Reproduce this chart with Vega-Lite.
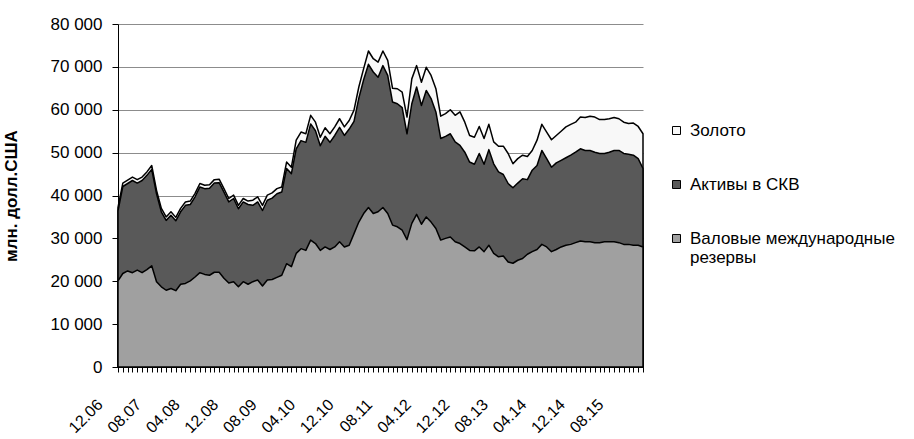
{
  "$schema": "https://vega.github.io/schema/vega-lite/v6.json",
  "width": 525,
  "height": 343,
  "autosize": {"type": "none"},
  "padding": {"left": 118, "top": 24, "right": 271, "bottom": 72},
  "background": "white",
  "config": {
    "font": "Liberation Sans",
    "view": {"stroke": null},
    "axis": {"domainColor": "black", "domainWidth": 1, "tickColor": "black", "labelColor": "black", "labelFont": "Liberation Sans", "labelFontSize": 17, "titleFont": "Liberation Sans", "titleColor": "black"},
    "axisX": {"grid": false, "tickSize": 5, "labelAngle": -45, "labelAlign": "right", "labelBaseline": "top", "labelOffset": -24, "labelPadding": 24, "labelFontSize": 16, "labelOverlap": false},
    "axisY": {"grid": true, "gridColor": "#8c8c8c", "gridWidth": 1, "tickSize": 6, "labelPadding": 10, "titleFontSize": 17, "titleFontWeight": "bold", "titlePadding": 30}
  },
  "data": {"values": [
    {"m":"12.06","gold":37200,"fx":36400,"gross":20100},
    {"m":"01.07","gold":42900,"fx":42100,"gross":21800},
    {"m":"02.07","gold":43600,"fx":42800,"gross":22400},
    {"m":"03.07","gold":44300,"fx":43500,"gross":22000},
    {"m":"04.07","gold":43700,"fx":42900,"gross":22600},
    {"m":"05.07","gold":44300,"fx":43500,"gross":22000},
    {"m":"06.07","gold":45500,"fx":44700,"gross":22700},
    {"m":"07.07","gold":47000,"fx":46100,"gross":23600},
    {"m":"08.07","gold":41200,"fx":40400,"gross":19900},
    {"m":"09.07","gold":37000,"fx":36200,"gross":18700},
    {"m":"10.07","gold":35000,"fx":34200,"gross":17900},
    {"m":"11.07","gold":36200,"fx":35400,"gross":18300},
    {"m":"12.07","gold":34900,"fx":34100,"gross":17800},
    {"m":"01.08","gold":37000,"fx":36200,"gross":19300},
    {"m":"02.08","gold":38500,"fx":37700,"gross":19500},
    {"m":"03.08","gold":38700,"fx":37900,"gross":20100},
    {"m":"04.08","gold":40500,"fx":39700,"gross":21000},
    {"m":"05.08","gold":42800,"fx":42000,"gross":22000},
    {"m":"06.08","gold":42400,"fx":41600,"gross":21600},
    {"m":"07.08","gold":42500,"fx":41700,"gross":21400},
    {"m":"08.08","gold":43700,"fx":42900,"gross":22100},
    {"m":"09.08","gold":43800,"fx":43000,"gross":22100},
    {"m":"10.08","gold":41600,"fx":40800,"gross":20700},
    {"m":"11.08","gold":39300,"fx":38500,"gross":19600},
    {"m":"12.08","gold":40100,"fx":39300,"gross":19900},
    {"m":"01.09","gold":37700,"fx":36900,"gross":18700},
    {"m":"02.09","gold":39300,"fx":38500,"gross":19900},
    {"m":"03.09","gold":38700,"fx":37900,"gross":19300},
    {"m":"04.09","gold":38900,"fx":37700,"gross":19900},
    {"m":"05.09","gold":39700,"fx":38500,"gross":20300},
    {"m":"06.09","gold":37700,"fx":36500,"gross":18900},
    {"m":"07.09","gold":40100,"fx":38900,"gross":20300},
    {"m":"08.09","gold":40600,"fx":39400,"gross":20400},
    {"m":"09.09","gold":41600,"fx":40400,"gross":20900},
    {"m":"10.09","gold":42000,"fx":40800,"gross":21400},
    {"m":"11.09","gold":47800,"fx":46300,"gross":24100},
    {"m":"12.09","gold":46600,"fx":45100,"gross":23400},
    {"m":"01.10","gold":52900,"fx":50900,"gross":26500},
    {"m":"02.10","gold":54800,"fx":52800,"gross":27600},
    {"m":"03.10","gold":54400,"fx":52400,"gross":27200},
    {"m":"04.10","gold":58700,"fx":56700,"gross":29600},
    {"m":"05.10","gold":57100,"fx":55100,"gross":28800},
    {"m":"06.10","gold":53600,"fx":51600,"gross":27200},
    {"m":"07.10","gold":55800,"fx":53800,"gross":28000},
    {"m":"08.10","gold":54400,"fx":52400,"gross":27400},
    {"m":"09.10","gold":56000,"fx":54000,"gross":28000},
    {"m":"10.10","gold":57900,"fx":55900,"gross":29200},
    {"m":"11.10","gold":56000,"fx":54000,"gross":28000},
    {"m":"12.10","gold":57500,"fx":55500,"gross":28400},
    {"m":"01.11","gold":59900,"fx":57300,"gross":31100},
    {"m":"02.11","gold":65300,"fx":62700,"gross":33800},
    {"m":"03.11","gold":69600,"fx":67000,"gross":35800},
    {"m":"04.11","gold":73700,"fx":70600,"gross":37200},
    {"m":"05.11","gold":71900,"fx":68800,"gross":35800},
    {"m":"06.11","gold":71100,"fx":67600,"gross":36200},
    {"m":"07.11","gold":73700,"fx":70300,"gross":37200},
    {"m":"08.11","gold":71500,"fx":68000,"gross":35800},
    {"m":"09.11","gold":65000,"fx":61800,"gross":33100},
    {"m":"10.11","gold":64900,"fx":61400,"gross":32700},
    {"m":"11.11","gold":64100,"fx":60500,"gross":31900},
    {"m":"12.11","gold":58300,"fx":54400,"gross":29700},
    {"m":"01.12","gold":67200,"fx":61400,"gross":33500},
    {"m":"02.12","gold":70300,"fx":65300,"gross":35600},
    {"m":"03.12","gold":66400,"fx":61000,"gross":33300},
    {"m":"04.12","gold":69900,"fx":64500,"gross":35000},
    {"m":"05.12","gold":68000,"fx":62600,"gross":33800},
    {"m":"06.12","gold":64900,"fx":59500,"gross":32300},
    {"m":"07.12","gold":58500,"fx":53300,"gross":29600},
    {"m":"08.12","gold":59100,"fx":53800,"gross":30000},
    {"m":"09.12","gold":60000,"fx":54400,"gross":30300},
    {"m":"10.12","gold":58700,"fx":52500,"gross":29200},
    {"m":"11.12","gold":59500,"fx":51700,"gross":28800},
    {"m":"12.12","gold":57100,"fx":50100,"gross":28000},
    {"m":"01.13","gold":54000,"fx":47800,"gross":27200},
    {"m":"02.13","gold":53600,"fx":47300,"gross":27100},
    {"m":"03.13","gold":56100,"fx":49800,"gross":28000},
    {"m":"04.13","gold":53300,"fx":47300,"gross":26900},
    {"m":"05.13","gold":56600,"fx":50700,"gross":28400},
    {"m":"06.13","gold":52500,"fx":47400,"gross":26500},
    {"m":"07.13","gold":51500,"fx":45500,"gross":25700},
    {"m":"08.13","gold":51500,"fx":44900,"gross":25900},
    {"m":"09.13","gold":49800,"fx":42800,"gross":24500},
    {"m":"10.13","gold":47400,"fx":41800,"gross":24200},
    {"m":"11.13","gold":48600,"fx":42900,"gross":24900},
    {"m":"12.13","gold":49400,"fx":43900,"gross":25300},
    {"m":"01.14","gold":49100,"fx":43700,"gross":26300},
    {"m":"02.14","gold":50500,"fx":45900,"gross":26900},
    {"m":"03.14","gold":52900,"fx":47000,"gross":27400},
    {"m":"04.14","gold":56600,"fx":50500,"gross":28600},
    {"m":"05.14","gold":54800,"fx":48600,"gross":28000},
    {"m":"06.14","gold":53000,"fx":46600,"gross":26900},
    {"m":"07.14","gold":54000,"fx":47600,"gross":27400},
    {"m":"08.14","gold":55000,"fx":48200,"gross":28000},
    {"m":"09.14","gold":56000,"fx":48800,"gross":28400},
    {"m":"10.14","gold":56600,"fx":49400,"gross":28600},
    {"m":"11.14","gold":57100,"fx":50100,"gross":29000},
    {"m":"12.14","gold":58300,"fx":50900,"gross":29400},
    {"m":"01.15","gold":58200,"fx":50500,"gross":29200},
    {"m":"02.15","gold":58500,"fx":50500,"gross":29200},
    {"m":"03.15","gold":58300,"fx":50100,"gross":29000},
    {"m":"04.15","gold":57700,"fx":49800,"gross":29000},
    {"m":"05.15","gold":57700,"fx":49800,"gross":29200},
    {"m":"06.15","gold":57900,"fx":50100,"gross":29200},
    {"m":"07.15","gold":58200,"fx":50500,"gross":29200},
    {"m":"08.15","gold":57900,"fx":50500,"gross":29000},
    {"m":"09.15","gold":57100,"fx":49800,"gross":28600},
    {"m":"10.15","gold":56800,"fx":49600,"gross":28600},
    {"m":"11.15","gold":56900,"fx":49400,"gross":28400},
    {"m":"12.15","gold":56100,"fx":48600,"gross":28400},
    {"m":"01.16","gold":54400,"fx":46300,"gross":28000}
  ]},
  "encoding": {
    "x": {
      "field": "m", "type": "ordinal", "sort": null, "title": null,
      "scale": {"type": "point", "padding": 0},
      "axis": {"labelExpr": "((toNumber(slice(datum.value,3,5))-6)*12 + toNumber(slice(datum.value,0,2)) - 12) % 8 == 0 ? datum.value : ''"}
    }
  },
  "layer": [
    {
      "mark": {"type": "area", "stroke": "black", "strokeWidth": 1.5, "strokeJoin": "round"},
      "encoding": {
        "y": {"field": "gold", "type": "quantitative", "title": "млн. долл.США",
          "scale": {"domain": [0, 80000], "nice": false},
          "axis": {"values": [0, 10000, 20000, 30000, 40000, 50000, 60000, 70000, 80000], "labelExpr": "replace(format(datum.value, ','), ',', ' ')"}},
        "color": {"datum": "Золото",
          "scale": {"domain": ["Золото", "Активы в СКВ", "Валовые международные резервы"], "range": ["#f8f8f8", "#595959", "#a0a0a0"]},
          "legend": {"title": null, "orient": "none", "legendX": 550, "legendY": 98, "symbolType": "square", "symbolSize": 64, "symbolStrokeColor": "black", "symbolStrokeWidth": 1, "labelFontSize": 17, "labelColor": "black", "labelOffset": 5, "rowPadding": 36, "labelLimit": 400, "labelLineHeight": 22,
            "labelExpr": "datum.label == 'Валовые международные резервы' ? ['Валовые международные', 'резервы'] : datum.label"}}
      }
    },
    {
      "mark": {"type": "area", "stroke": "black", "strokeWidth": 1.5, "strokeJoin": "round"},
      "encoding": {
        "y": {"field": "fx", "type": "quantitative", "title": "млн. долл.США"},
        "color": {"datum": "Активы в СКВ"}
      }
    },
    {
      "mark": {"type": "area", "stroke": "black", "strokeWidth": 1.5, "strokeJoin": "round"},
      "encoding": {
        "y": {"field": "gross", "type": "quantitative", "title": "млн. долл.США"},
        "color": {"datum": "Валовые международные резервы"}
      }
    }
  ]
}
